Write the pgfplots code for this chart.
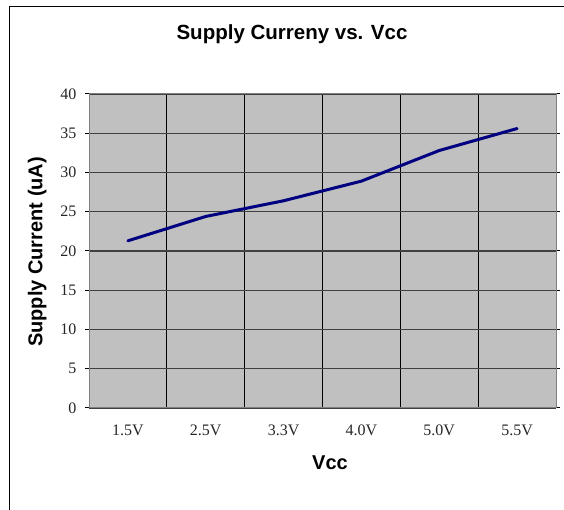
\documentclass[border=0pt]{standalone}
\usepackage{pgfplots}
\pgfplotsset{compat=1.18}
\usepackage{fontspec}
\setmainfont{Liberation Serif}
\newfontfamily\arial{Liberation Sans}
\definecolor{navy}{RGB}{0,0,128}
\definecolor{plotgray}{RGB}{192,192,192}
\begin{document}
\begin{tikzpicture}
\path[use as bounding box] (0,0) rectangle (564pt,510pt);
\draw[line width=1pt] (9.5pt,0) -- (9.5pt,503.5pt) -- (564pt,503.5pt);
\node[font=\arial\bfseries\fontsize{20.5}{24}\selectfont] at (292pt,476pt) {Supply Curreny vs. Vcc};
\begin{axis}[
  at={(89pt,102pt)}, anchor=south west,
  scale only axis, width=467pt, height=314pt,
  xmin=-0.5, xmax=5.5, ymin=0, ymax=40,
  ytick={0,5,...,40},
  xtick={0,1,2,3,4,5},
  xticklabels={1.5V,2.5V,3.3V,4.0V,5.0V,5.5V},
  minor xtick={0.5,1.5,2.5,3.5,4.5},
  xminorgrids, ymajorgrids,
  minor x grid style={black, line width=1pt},
  major y grid style={black!75, line width=1.3pt},
  major x tick style={draw=none},
  minor x tick style={draw=none},
  tick align=outside,
  major tick length=4pt,
  y tick style={black, line width=1pt},
  axis background/.style={fill=plotgray},
  axis line style={draw=black!50, line width=1pt},
  /pgf/number format/assume math mode=true,
  ticklabel style={font=\fontsize{16}{18}\selectfont, text=black!85},
  xticklabel style={yshift=-9pt},
  yticklabel style={xshift=-5pt},
  xlabel={Vcc}, ylabel={Supply Current (uA)},
  label style={font=\arial\bfseries\fontsize{20}{23}\selectfont},
  xlabel style={at={(axis description cs:0.516,-0.175)}, anchor=center},
  ylabel style={at={(axis description cs:-0.111,0.497)}, anchor=center, rotate=0},
]
\addplot[navy, line width=3pt, line join=round, line cap=round] coordinates {
  (0,21.3) (1,24.4) (2,26.4) (3,28.9) (4,32.8) (5,35.6)
};
\end{axis}
\end{tikzpicture}
\end{document}
